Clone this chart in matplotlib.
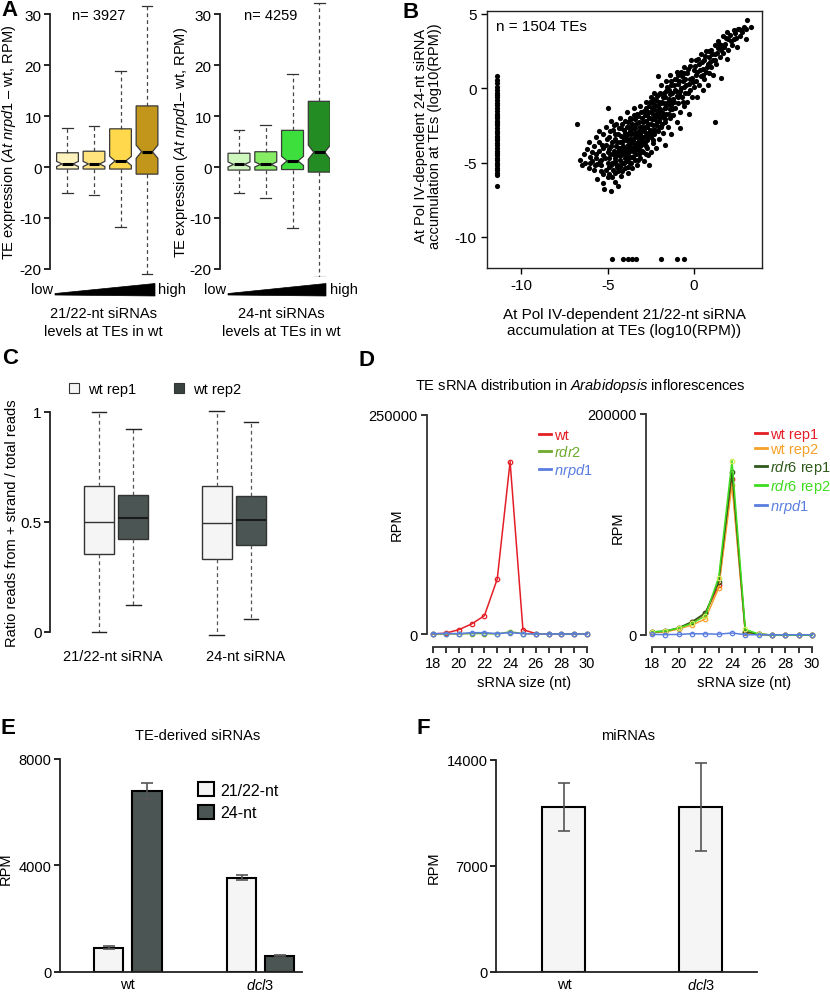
import matplotlib
matplotlib.use('Agg')
import matplotlib.pyplot as plt
import numpy as np
from matplotlib.patches import Patch, Polygon
from matplotlib.lines import Line2D

plt.rcParams['font.family'] = ['Liberation Sans', 'DejaVu Sans']
plt.rcParams['mathtext.fontset'] = 'custom'
plt.rcParams['mathtext.rm'] = 'Liberation Sans'
plt.rcParams['mathtext.it'] = 'Liberation Sans:italic'
plt.rcParams['mathtext.bf'] = 'Liberation Sans:bold'
plt.rcParams['axes.unicode_minus'] = False

# ---------------- data ----------------
# A: TE expression boxplots (21/22-nt bins, then 24-nt bins)
a21_lo = [-5.1, -5.4, -11.8, -21.0]
a21_q1 = [-0.4, -0.4, -0.4, -1.4]
a21_med = [0.6, 0.6, 1.2, 3.0]
a21_q3 = [2.8, 3.1, 7.5, 12.0]
a21_hi = [7.7, 8.1, 18.9, 31.6]
a21_notch = [0.5, 0.5, 0.9, 1.3]
a24_lo = [-5.1, -6.1, -12.0, -21.6]
a24_q1 = [-0.6, -0.6, -0.5, -1.0]
a24_med = [0.5, 0.5, 1.2, 2.9]
a24_q3 = [2.7, 3.0, 7.2, 12.9]
a24_hi = [7.3, 8.3, 18.2, 32.3]
a24_notch = [0.5, 0.5, 0.9, 1.4]
a_n = [3927, 4259]

# B: scatter, 21/22-nt (x) vs 24-nt (y) log10(RPM)
b_cloud = [
    (-6.8, -2.4), (-6.6, -4.8), (-6.5, -5.2), (-6.4, -4.4), (-6.2, -4.1), (-6.3, -5.0),
    (-6.1, -5.4), (-6.0, -4.6), (-6.1, -3.6), (-5.9, -4.9), (-5.8, -3.9), (-5.8, -5.5),
    (-5.9, -4.3), (-5.7, -3.3), (-5.7, -4.7), (-5.6, -5.1), (-5.6, -6.1), (-5.5, -2.9),
    (-5.5, -4.2), (-5.4, -4.8), (-5.4, -5.6), (-5.5, -3.6), (-5.3, -6.4), (-5.3, -3.1),
    (-5.4, -5.2), (-5.3, -4.5), (-5.2, -6.8), (-5.0, -1.3), (-5.1, -2.6), (-5.1, -3.8),
    (-5.0, -4.3), (-5.0, -5.0), (-5.1, -5.5), (-5.0, -6.0), (-4.9, -3.3), (-4.9, -4.7),
    (-4.9, -5.8), (-4.8, -2.2), (-4.8, -3.9), (-4.8, -5.2), (-4.8, -6.9), (-4.7, -2.8),
    (-4.7, -4.4), (-4.7, -5.5), (-4.6, -3.4), (-4.6, -4.9), (-4.6, -6.3), (-4.5, -2.4),
    (-4.5, -3.9), (-4.5, -5.1), (-4.5, -4.5), (-4.4, -3.1), (-4.4, -4.2), (-4.4, -5.6),
    (-4.4, -6.6), (-4.3, -2.0), (-4.3, -3.6), (-4.3, -4.8), (-4.3, -5.3), (-4.2, -2.7),
    (-4.2, -4.0), (-4.2, -4.5), (-4.2, -5.9), (-4.1, -3.3), (-4.1, -3.9), (-4.1, -5.0),
    (-4.0, -2.2), (-4.0, -3.0), (-4.0, -4.3), (-4.0, -4.7), (-4.0, -5.4), (-3.9, -1.6),
    (-3.9, -2.6), (-3.9, -3.5), (-3.9, -4.1), (-3.9, -4.9), (-3.8, -3.1), (-3.8, -3.8),
    (-3.8, -4.5), (-3.8, -5.7), (-3.7, -2.0), (-3.7, -2.9), (-3.7, -3.4), (-3.7, -4.2),
    (-3.7, -5.0), (-3.6, -2.4), (-3.6, -3.6), (-3.6, -4.6), (-3.6, -5.4), (-3.5, -1.3),
    (-3.5, -3.0), (-3.5, -3.9), (-3.5, -4.3), (-3.4, -2.1), (-3.4, -2.7), (-3.4, -3.3),
    (-3.4, -4.8), (-3.3, -1.7), (-3.3, -3.7), (-3.3, -4.1), (-3.3, -5.2), (-3.2, -2.3),
    (-3.2, -2.9), (-3.2, -3.5), (-3.2, -4.4), (-3.1, -1.2), (-3.1, -3.1), (-3.1, -3.9),
    (-3.1, -4.7), (-3.0, -2.0), (-3.0, -2.6), (-3.0, -3.4), (-3.0, -4.2), (-2.9, -1.5),
    (-2.9, -2.9), (-2.9, -3.7), (-2.9, -4.9), (-2.8, -0.9), (-2.8, -2.2), (-2.8, -3.2),
    (-2.8, -4.4), (-2.7, -1.8), (-2.7, -2.6), (-2.7, -3.5), (-2.7, -4.0), (-2.6, -1.2),
    (-2.6, -2.0), (-2.6, -3.0), (-2.6, -5.2), (-2.5, -0.6), (-2.5, -1.6), (-2.5, -2.4),
    (-2.5, -3.3), (-2.5, -4.3), (-2.4, -1.0), (-2.4, -2.8), (-2.4, -3.7), (-2.3, -0.3),
    (-2.3, -1.4), (-2.3, -2.1), (-2.3, -3.1), (-2.2, -0.8), (-2.2, -1.8), (-2.2, -2.5),
    (-2.2, -4.0), (-2.1, 0.8), (-2.1, -1.2), (-2.1, -2.9), (-2.0, -0.4), (-2.0, -1.6),
    (-2.0, -2.2), (-2.0, -3.4), (-1.9, -1.0), (-1.9, -2.6), (-1.9, 0.2), (-1.8, -0.6),
    (-1.8, -1.9), (-1.8, -3.0), (-1.7, -1.3), (-1.7, -2.3), (-1.7, -3.8), (-1.6, 0.5),
    (-1.6, -0.2), (-1.6, -1.7), (-1.5, -0.9), (-1.5, -2.6), (-1.4, 0.9), (-1.4, -0.4),
    (-1.4, -1.4), (-1.4, -2.0), (-1.3, 0.2), (-1.3, -1.1), (-1.3, -3.1), (-1.2, -0.7),
    (-1.2, -1.8), (-1.1, 0.6), (-1.1, -0.1), (-1.1, -1.3), (-1.0, -0.5), (-1.0, -2.3),
    (-1.0, 1.1), (-0.9, 0.3), (-0.9, -1.0), (-0.8, -0.2), (-0.8, -1.6), (-0.8, -2.7),
    (-0.7, 0.8), (-0.7, -0.6), (-0.6, 1.4), (-0.6, 0.1), (-0.6, -1.2), (-0.5, -0.3),
    (-0.5, 0.6), (-0.4, 1.0), (-0.4, -0.9), (-0.3, 0.3), (-0.3, -1.7), (-0.2, 1.5),
    (-0.2, -0.1), (-0.1, 0.7), (-0.1, -0.6), (0.0, 1.2), (0.0, 0.1), (0.1, 1.9),
    (0.1, 0.5), (0.2, -0.6), (0.2, 1.1), (0.3, 0.2), (0.3, 1.6), (0.4, 2.3), (0.4, 0.8),
    (0.5, 1.3), (0.5, -0.1), (0.6, 1.9), (0.6, 0.6), (0.7, 2.5), (0.7, 1.1), (0.8, 1.6),
    (0.8, 0.2), (0.9, 2.1), (0.9, 1.0), (1.0, 2.6), (1.0, 1.4), (1.1, 1.9), (1.1, 0.9),
    (1.2, 2.9), (1.2, -2.3), (1.2, 2.3), (1.3, 1.6), (1.4, 2.7), (1.4, 3.2), (1.5, 2.1),
    (1.6, 0.7), (1.6, 2.9), (1.7, 3.5), (1.7, 2.4), (1.8, 3.0), (1.9, 2.0), (1.9, 3.8),
    (2.0, 3.3), (2.0, 2.6), (2.1, 3.6), (2.2, 2.9), (2.3, 3.9), (2.3, 3.3), (2.4, 3.7),
    (2.5, 2.8), (2.6, 4.0), (2.7, 3.5), (2.8, 3.8), (2.9, 4.1), (3.0, 3.3), (3.1, 4.6),
    (3.0, 4.0), (3.3, 4.1),
]
# extra points read from the dense core / band of the cloud
b_core = [
    (-5.25, -4.0), (-5.15, -4.7), (-5.05, -3.4), (-4.95, -4.1), (-4.95, -5.3), (-4.85, -2.9),
    (-4.85, -4.4), (-4.75, -3.6), (-4.75, -5.0), (-4.75, -6.0), (-4.65, -4.2), (-4.65, -2.5),
    (-4.55, -3.1), (-4.55, -4.7), (-4.55, -5.7), (-4.45, -3.6), (-4.45, -5.3), (-4.35, -2.7),
    (-4.35, -4.0), (-4.35, -4.5), (-4.25, -3.2), (-4.25, -5.1), (-4.15, -2.4), (-4.15, -3.6),
    (-4.15, -4.3), (-4.15, -5.6), (-4.05, -2.8), (-4.05, -3.5), (-4.05, -4.0), (-4.05, -5.0),
    (-3.95, -3.2), (-3.95, -4.5), (-3.85, -2.3), (-3.85, -3.5), (-3.85, -4.2), (-3.85, -5.3),
    (-3.75, -2.6), (-3.75, -3.8), (-3.75, -4.7), (-3.65, -2.1), (-3.65, -3.1), (-3.65, -4.0),
    (-3.65, -5.0), (-3.55, -2.7), (-3.55, -3.4), (-3.55, -4.6), (-3.45, -1.8), (-3.45, -3.6),
    (-3.45, -4.1), (-3.35, -2.4), (-3.35, -3.0), (-3.35, -4.4), (-3.25, -1.9), (-3.25, -3.3),
    (-3.25, -3.9), (-3.25, -4.8), (-3.15, -2.6), (-3.15, -3.6), (-3.15, -4.2), (-3.05, -1.6),
    (-3.05, -2.9), (-3.05, -3.8), (-2.95, -2.3), (-2.95, -3.3), (-2.95, -4.3), (-2.85, -1.8),
    (-2.85, -2.6), (-2.85, -3.6), (-2.75, -1.3), (-2.75, -2.2), (-2.75, -3.0), (-2.75, -3.9),
    (-2.65, -1.6), (-2.65, -2.4), (-2.65, -3.3), (-2.65, -4.5), (-2.55, -0.9), (-2.55, -2.0),
    (-2.55, -2.8), (-2.45, -1.3), (-2.45, -2.1), (-2.45, -3.0), (-2.35, -0.7), (-2.35, -1.7),
    (-2.35, -2.5), (-2.35, -3.5), (-2.25, -1.1), (-2.25, -2.0), (-2.25, -2.8), (-2.15, -0.5),
    (-2.15, -1.5), (-2.15, -2.3), (-2.05, -0.9), (-2.05, -1.9), (-2.05, -2.6), (-1.95, -0.3),
    (-1.95, -1.4), (-1.95, -2.0), (-1.85, -0.9), (-1.85, -1.6), (-1.85, -2.4), (-1.75, -0.3),
    (-1.75, -1.0), (-1.75, -1.9), (-1.65, -0.6), (-1.65, -1.3), (-1.65, -2.1), (-1.55, 0.1),
    (-1.55, -1.1), (-1.45, -0.1), (-1.45, -0.7), (-1.45, -1.7), (-1.35, -0.9), (-1.35, 0.5),
    (-1.25, -0.3), (-1.25, -1.4), (-1.15, 0.2), (-1.15, -0.9), (-1.05, 0.6), (-1.05, -0.2),
    (-0.95, -0.6), (-0.95, 0.9), (-0.85, 0.5), (-0.85, -0.4), (-0.75, 0.0), (-0.75, 1.1),
    (-0.65, 0.5), (-0.65, -0.9), (-0.55, 1.0), (-0.45, 0.2), (-0.35, 1.3), (-0.35, -0.3),
    (-0.25, 0.6), (-0.15, 1.9), (-0.05, 0.4), (0.05, 1.5), (0.15, 0.9), (0.25, 2.0),
    (0.35, 1.2), (0.45, 1.8), (0.55, 0.9), (0.65, 2.2), (0.75, 1.4), (0.85, 2.5),
    (0.95, 1.8), (1.05, 2.3), (1.25, 1.9), (1.35, 2.4), (1.45, 3.0), (1.55, 2.6),
    (1.75, 2.8), (1.85, 3.4), (2.15, 3.2), (2.45, 3.4), (2.55, 4.0), (2.75, 3.9),
    (-5.65, -4.4), (-5.75, -5.2), (-6.0, -5.0), (-5.45, -4.9), (-5.35, -3.8), (-5.25, -5.8),
]
b_strip_x = -11.4
b_strip_y = [0.8, 0.55, 0.35, 0.1, -0.1, -0.3, -0.45, -0.6, -0.8, -1.0, -1.15, -1.3, -1.5,
             -1.7, -1.85, -2.0, -2.2, -2.35, -2.5, -2.7, -2.85, -3.0, -3.2, -3.35, -3.5,
             -3.7, -3.85, -4.0, -4.2, -4.35, -4.5, -4.7, -4.85, -5.0, -5.2, -5.35, -5.5,
             -5.7, -5.85, -6.55]
b_floor_y = -11.5
b_floor_x = [-4.75, -4.1, -3.85, -3.6, -3.35, -1.9, -1.0, -0.55]

# C: strand ratio boxplots (wt rep1, wt rep2) x (21/22-nt, 24-nt)
c_groups = ['21/22-nt siRNA', '24-nt siRNA']
c_lo = [0.0, 0.124, -0.015, 0.06]
c_q1 = [0.355, 0.423, 0.33, 0.397]
c_med = [0.499, 0.518, 0.495, 0.51]
c_q3 = [0.665, 0.624, 0.664, 0.618]
c_hi = [1.0, 0.923, 1.005, 0.955]

# D: sRNA size distribution
d_sizes = [18, 19, 20, 21, 22, 23, 24, 25, 26, 27, 28, 29, 30]
d_wt = [0, 1000, 4900, 11400, 20900, 62800, 196700, 4900, 500, 0, 0, 0, 0]
d_rdr2 = [0, 0, 0, 500, 500, 0, 2500, 500, 0, 0, 0, 0, 0]
d_nrpd1 = [500, 500, 500, 1500, 1500, 500, 1500, 500, 0, 0, 0, 0, 0]
r_wt1 = [2500, 3200, 6000, 11500, 19500, 45000, 141000, 2500, 800, 0, 0, 0, 0]
r_wt2 = [2200, 2800, 5500, 9000, 14500, 42500, 136000, 2000, 600, 0, 0, 0, 0]
r_rdr6_1 = [2700, 3500, 6500, 12000, 20000, 48000, 147500, 3000, 700, 0, 0, 0, 0]
r_rdr6_2 = [2800, 3600, 6300, 10500, 17500, 52000, 157700, 5000, 900, 0, 0, 0, 0]
r_nrpd1 = [500, 400, 500, 1200, 1000, 800, 1800, 300, 200, 200, 200, 200, 200]

# E: TE-derived siRNAs
e_groups = ['wt', 'dcl3']
e_short = [900, 3530]
e_short_err = [50, 90]
e_long = [6790, 600]
e_long_err = [300, 25]

# F: miRNAs
f_mean = [10855, 10875]
f_err = [1585, 2885]

# ---------------- layout helpers ----------------
W, H = 830, 995
fig = plt.figure(figsize=(W / 100, H / 100), dpi=100)


def px_ax(l, t, r, b):
    return fig.add_axes([l / W, 1 - b / H, (r - l) / W, (b - t) / H])


def ftext(x, y, s, **kw):
    kw.setdefault('va', 'center')
    return fig.text(x / W, 1 - y / H, s, **kw)


def px(x, y):
    return (x / W, 1 - y / H)


def stats_list(lo, q1, med, q3, hi, notch=None):
    out = []
    for i in range(len(med)):
        d = dict(whislo=lo[i], q1=q1[i], med=med[i], q3=q3[i], whishi=hi[i], fliers=[])
        if notch is not None:
            d['cilo'] = med[i] - notch[i]
            d['cihi'] = med[i] + notch[i]
        out.append(d)
    return out


def left_only(ax, lo, hi, lw=1.3):
    for s in ['top', 'right', 'bottom']:
        ax.spines[s].set_visible(False)
    ax.spines['left'].set_bounds(lo, hi)
    ax.spines['left'].set_linewidth(lw)
    ax.spines['left'].set_color('#222222')


# ---------------- panel A ----------------
def draw_a(ax, stats, colors, n, xlim):
    bp = ax.bxp(stats, positions=[1, 2, 3, 4], widths=0.82, shownotches=True,
                patch_artist=True, showfliers=False, manage_ticks=False,
                boxprops=dict(edgecolor='#3a3a3a', linewidth=0.9),
                whiskerprops=dict(color='#444444', linestyle=(0, (3, 2.5)), linewidth=0.9),
                capprops=dict(color='#333333', linewidth=0.9),
                medianprops=dict(color='black', linewidth=2.2))
    for patch, c in zip(bp['boxes'], colors):
        patch.set_facecolor(c)
    ax.set_xlim(*xlim)
    ax.set_ylim(-21.6, 32.6)
    left_only(ax, -20, 30)
    ax.set_yticks([-20, -10, 0, 10, 20, 30])
    ax.set_xticks([])
    ax.tick_params(axis='y', labelsize=11, length=4, width=1.2, pad=2)
    ax.text(1.18, 29.8, 'n= %d' % n, fontsize=10.5, va='center', ha='left')


ax_a1 = px_ax(50, 2, 160, 278)
draw_a(ax_a1, stats_list(a21_lo, a21_q1, a21_med, a21_q3, a21_hi, a21_notch),
       ['#FFF3BD', '#FFE37C', '#FFD84C', '#C2961A'], a_n[0], (0.34, 4.49))
ax_a2 = px_ax(220, 2, 330, 278)
draw_a(ax_a2, stats_list(a24_lo, a24_q1, a24_med, a24_q3, a24_hi, a24_notch),
       ['#CDF7BC', '#86EC64', '#3DDF3D', '#238C23'], a_n[1], (0.29, 4.40))

ftext(9, 142, 'TE expression ($\\it{At\\ nrpd1}$ \u2013 wt, RPM)', rotation=90, ha='center', fontsize=10.5)
ftext(181, 142, 'TE expression ($\\it{At\\ nrpd1}$\u2013 wt, RPM)', rotation=90, ha='center', fontsize=10.5)

for x0, x1, lowx, highx, labx, lab in [(55, 155, 53, 158, 103, '21/22-nt siRNAs'),
                                         (228, 326, 226, 330, 281, '24-nt siRNAs')]:
    wedge = Polygon([px(x0, 294.5), px(x1, 284.5), px(x1, 297), px(x0, 296)],
                    closed=True, facecolor='black', edgecolor='black', lw=0.5,
                    transform=fig.transFigure)
    fig.patches.append(wedge)
    ftext(lowx, 290, 'low', ha='right', fontsize=10.5)
    ftext(highx, 290, 'high', ha='left', fontsize=10.5)
    ftext(labx, 323, lab + '\nlevels at TEs in wt', ha='center', fontsize=10.5, linespacing=1.3)

# ---------------- panel B ----------------
ax_b = px_ax(487, 12, 762, 269)
pts = b_cloud + b_core
bx = [p[0] for p in pts] + [b_strip_x] * len(b_strip_y) + b_floor_x
by = [p[1] for p in pts] + b_strip_y + [b_floor_y] * len(b_floor_x)
ax_b.scatter(bx, by, s=14, c='black', linewidths=0)
ax_b.set_xlim(-12.0, 3.95)
ax_b.set_ylim(-12.1, 5.2)
ax_b.set_xticks([-10, -5, 0])
ax_b.set_yticks([-10, -5, 0, 5])
ax_b.tick_params(labelsize=11, length=4, width=1.0)
for s in ax_b.spines.values():
    s.set_linewidth(1.0)
    s.set_color('#222222')
ax_b.text(-11.45, 4.2, 'n = 1504 TEs', fontsize=11, va='center')
ftext(624, 323, 'At Pol IV-dependent 21/22-nt siRNA\naccumulation at TEs (log10(RPM))',
      ha='center', fontsize=11, linespacing=1.25)
ftext(428, 136, 'At Pol IV-dependent 24-nt siRNA\naccumulation at TEs (log10(RPM))',
      ha='center', rotation=90, fontsize=10.5, linespacing=1.05)

# ---------------- panel C ----------------
ax_c = px_ax(50, 402, 300, 644)
c_off = 0.145
c_pos = [1 - c_off, 1 + c_off, 2 - c_off, 2 + c_off]
bp = ax_c.bxp(stats_list(c_lo, c_q1, c_med, c_q3, c_hi), positions=c_pos, widths=0.25,
              patch_artist=True, showfliers=False, manage_ticks=False,
              boxprops=dict(edgecolor='#333333', linewidth=1.0),
              whiskerprops=dict(color='#555555', linestyle=(0, (3, 2.5)), linewidth=0.9),
              capprops=dict(color='#222222', linewidth=1.0),
              medianprops=dict(color='#333333', linewidth=1.0))
light, dark = '#F5F5F5', '#4B5553'
for i, patch in enumerate(bp['boxes']):
    patch.set_facecolor(light if i % 2 == 0 else dark)
    if i % 2 == 1:
        bp['medians'][i].set_color('#1a1a1a')
        bp['medians'][i].set_linewidth(1.5)
ax_c.set_xlim(0.44, 2.56)
ax_c.set_ylim(-0.05, 1.05)
left_only(ax_c, 0, 1, lw=1.3)
ax_c.set_yticks([0, 0.5, 1])
ax_c.set_yticklabels(['0', '0.5', '1'])
ax_c.set_xticks([0.97, 2.1])
ax_c.set_xticklabels(c_groups)
ax_c.tick_params(axis='y', labelsize=11, length=4, width=1.2, pad=2)
ax_c.tick_params(axis='x', labelsize=10.5, length=0, pad=4)
ax_c.legend(handles=[Patch(facecolor=light, edgecolor='#333333', lw=0.8, label='wt rep1'),
                     Patch(facecolor='#3A4240', edgecolor='#333333', lw=0.8, label='wt rep2')],
            loc='center left', bbox_to_anchor=px(69, 390), bbox_transform=fig.transFigure,
            ncol=2, frameon=False, fontsize=10.5, handlelength=0.7, handleheight=0.7,
            handletextpad=0.6, columnspacing=2.6, borderpad=0, borderaxespad=0)
ftext(12, 523, 'Ratio reads from + strand / total reads', rotation=90, ha='center', fontsize=10.5)

# ---------------- panel D ----------------
def style_d(ax, top, ylow, xlim):
    ax.set_xlim(*xlim)
    ax.set_ylim(ylow, top)
    for s in ['top', 'right']:
        ax.spines[s].set_visible(False)
    ax.spines['left'].set_bounds(0, top)
    ax.spines['bottom'].set_bounds(18, 30)
    for s in ['left', 'bottom']:
        ax.spines[s].set_linewidth(1.3)
        ax.spines[s].set_color('#333333')
    ax.set_yticks([0, top])
    ax.set_yticklabels(['0', '%d' % top])
    ax.set_xticks(d_sizes)
    ax.set_xticklabels([str(v) if v % 2 == 0 else '' for v in d_sizes])
    ax.tick_params(labelsize=10.5, length=4.5, width=1.1, pad=2)


ax_d1 = px_ax(427, 416, 591, 648)
d1_series = [(d_wt, '#E41E26', 'wt'), (d_rdr2, '#6DAA2C', '$\\it{rdr2}$'),
             (d_nrpd1, '#5A7DE0', '$\\it{nrpd1}$')]
for vals, col, lab in d1_series:
    ax_d1.plot(d_sizes, vals, color=col, lw=1.1, marker='o', ms=3.2, mfc='none', mew=0.9)
style_d(ax_d1, 250000, -14840, (17.53, 30.3))
ax_d1.legend(handles=[Line2D([], [], color=c, lw=2) for _, c, _ in d1_series],
             labels=[l for _, _, l in d1_series], labelcolor=[c for _, c, _ in d1_series],
             loc='upper left', bbox_to_anchor=px(539, 429), bbox_transform=fig.transFigure,
             frameon=False, fontsize=10.5, handlelength=0.8, handletextpad=0.25,
             labelspacing=0.15, borderpad=0, borderaxespad=0)

ax_d2 = px_ax(646, 415, 816, 648)
d2_series = [(r_wt1, '#E41E26', '#E41E26', 'wt rep1'),
             (r_wt2, '#F5A12A', '#F5A12A', 'wt rep2'),
             (r_rdr6_1, '#2F5A1C', '#2F5A1C', '$\\it{rdr6}$ rep1'),
             (r_rdr6_2, '#3FDC1E', '#D2EC5A', '$\\it{rdr6}$ rep2'),
             (r_nrpd1, '#5A7DE0', '#5A7DE0', '$\\it{nrpd1}$')]
for vals, col, mcol, lab in d2_series:
    ax_d2.plot(d_sizes, vals, color=col, lw=1.1, marker='o', ms=3.2, mfc='none', mec=mcol, mew=0.9)
style_d(ax_d2, 200000, -10860, (17.55, 30.3))
ax_d2.legend(handles=[Line2D([], [], color=c, lw=2) for _, c, _, _ in d2_series],
             labels=[l for _, _, _, l in d2_series], labelcolor=[c for _, c, _, _ in d2_series],
             loc='upper left', bbox_to_anchor=px(755, 428), bbox_transform=fig.transFigure,
             frameon=False, fontsize=10.5, handlelength=0.8, handletextpad=0.2,
             labelspacing=0.1, borderpad=0, borderaxespad=0)

ftext(580, 386, 'TE sRNA distribution in $\\it{Arabidopsis}$ inflorescences', ha='center', fontsize=10.5)
ftext(397, 525, 'RPM', rotation=90, ha='center', fontsize=10.5)
ftext(618, 528, 'RPM', rotation=90, ha='center', fontsize=10.5)
ftext(524, 683, 'sRNA size (nt)', ha='center', fontsize=10.5)
ftext(744, 683, 'sRNA size (nt)', ha='center', fontsize=10.5)

# ---------------- panel E ----------------
ax_e = px_ax(60, 740, 302, 972.7)
ex = np.arange(len(e_groups))
e_off, e_w = 0.143, 0.225
ax_e.bar(ex - e_off, e_short, e_w, color=light, edgecolor='black', lw=1.5, label='21/22-nt', zorder=2)
ax_e.bar(ex + e_off, e_long, e_w, color=dark, edgecolor='black', lw=1.5, label='24-nt', zorder=2)
ax_e.errorbar(ex - e_off, e_short, yerr=e_short_err, fmt='none', ecolor='#555555',
              capsize=4, elinewidth=1.2, capthick=1.2, zorder=3)
ax_e.errorbar(ex + e_off, e_long, yerr=e_long_err, fmt='none', ecolor='#555555',
              capsize=4, elinewidth=1.2, capthick=1.2, zorder=3)
ax_e.set_xlim(-0.508, 1.312)
ax_e.set_ylim(0, 8750)
for s in ['top', 'right']:
    ax_e.spines[s].set_visible(False)
ax_e.spines['left'].set_bounds(0, 8000)
for s in ['left', 'bottom']:
    ax_e.spines[s].set_linewidth(1.3)
    ax_e.spines[s].set_color('#222222')
ax_e.set_yticks([0, 4000, 8000])
ax_e.set_xticks(ex)
ax_e.set_xticklabels(['wt', '$\\it{dcl3}$'])
ax_e.tick_params(axis='y', labelsize=10.5, length=4, width=1.2, pad=2)
ax_e.tick_params(axis='x', labelsize=10.5, length=0, pad=4)
ax_e.legend(loc='upper left', bbox_to_anchor=px(198, 783), bbox_transform=fig.transFigure,
            frameon=False, fontsize=11.5, handlelength=1.0, handleheight=1.0,
            handletextpad=0.4, labelspacing=0.45, borderpad=0, borderaxespad=0)
ftext(198, 736, 'TE-derived siRNAs', ha='center', fontsize=10.5)
ftext(6, 869, 'RPM', rotation=90, ha='center', fontsize=10.5)

# ---------------- panel F ----------------
ax_f = px_ax(496, 740, 757, 972.7)
fx = np.arange(len(e_groups))
ax_f.bar(fx, f_mean, 0.314, color=light, edgecolor='black', lw=1.5, zorder=2)
ax_f.errorbar(fx, f_mean, yerr=f_err, fmt='none', ecolor='#555555',
              capsize=4, elinewidth=1.2, capthick=1.2, zorder=3)
ax_f.set_xlim(-0.496, 1.409)
ax_f.set_ylim(0, 15370)
for s in ['top', 'right']:
    ax_f.spines[s].set_visible(False)
ax_f.spines['left'].set_bounds(0, 14000)
for s in ['left', 'bottom']:
    ax_f.spines[s].set_linewidth(1.3)
    ax_f.spines[s].set_color('#222222')
ax_f.set_yticks([0, 7000, 14000])
ax_f.set_xticks(fx)
ax_f.set_xticklabels(['wt', '$\\it{dcl3}$'])
ax_f.tick_params(axis='y', labelsize=10.5, length=4, width=1.2, pad=2)
ax_f.tick_params(axis='x', labelsize=10.5, length=0, pad=4)
ftext(628, 736, 'miRNAs', ha='center', fontsize=10.5)
ftext(434, 868, 'RPM', rotation=90, ha='center', fontsize=10.5)

# ---------------- panel letters ----------------
for lx, ly, letter in [(1, 11, 'A'), (402, 12, 'B'), (2, 359, 'C'), (358, 360, 'D'),
                       (1, 729, 'E'), (417, 729, 'F')]:
    ftext(lx, ly, letter, ha='left', fontsize=16, fontweight='bold')

fig.savefig('out.png', dpi=100)
